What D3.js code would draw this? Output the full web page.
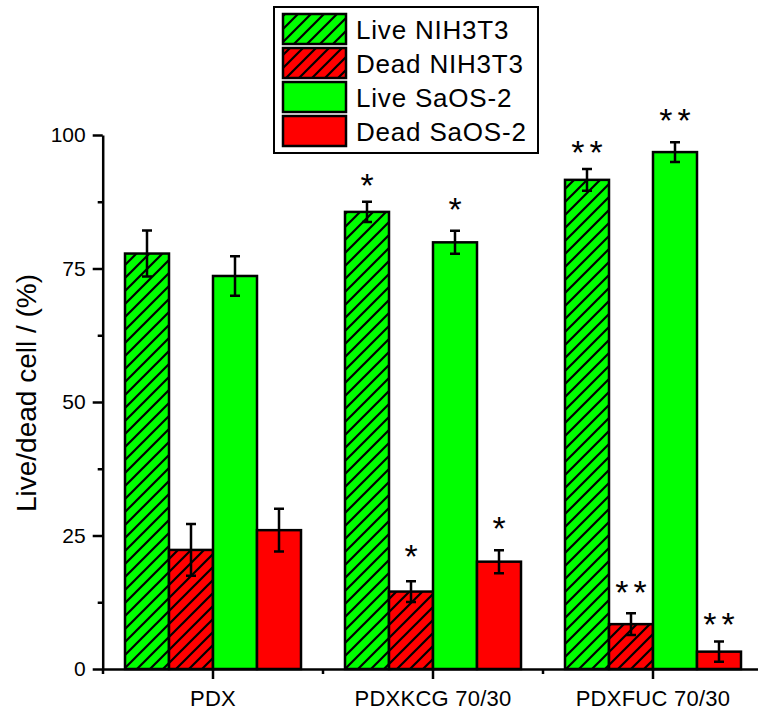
<!DOCTYPE html>
<html>
<head>
<meta charset="utf-8">
<script src="https://cdn.jsdelivr.net/npm/d3@7/dist/d3.min.js"></script>
<style>
  html, body { margin: 0; padding: 0; background: #fff; }
  svg { display: block; font-family: Arial, "Liberation Sans", sans-serif; }
</style>
</head>
<body>
<svg id="chart" width="758" height="713"></svg>
<script>
// Groups and series
const categories = ["PDX", "PDXKCG 70/30", "PDXFUC 70/30"];
const seriesNames = ["Live NIH3T3", "Dead NIH3T3", "Live SaOS-2", "Dead SaOS-2"];

// Mean percentages per group (PDX, PDXKCG, PDXFUC)
const liveNIH3T3 = [77.8, 85.6, 91.6];
const deadNIH3T3 = [22.3, 14.5, 8.4];
const liveSaOS2  = [73.6, 79.9, 96.8];
const deadSaOS2  = [26.0, 20.1, 3.25];

// Standard deviations
const liveNIH3T3Err = [4.3, 1.9, 2.05];
const deadNIH3T3Err = [4.85, 1.95, 2.05];
const liveSaOS2Err  = [3.7, 2.15, 1.85];
const deadSaOS2Err  = [4.0, 2.15, 1.9];

// Significance marks: [group, series, text, level in %]
const sigMarks = [
  ["PDXKCG 70/30", "Live NIH3T3", "*", 91.9],
  ["PDXKCG 70/30", "Dead NIH3T3", "*", 22.4],
  ["PDXKCG 70/30", "Live SaOS-2", "*", 87.5],
  ["PDXKCG 70/30", "Dead SaOS-2", "*", 27.7],
  ["PDXFUC 70/30", "Live NIH3T3", "**", 98.1],
  ["PDXFUC 70/30", "Dead NIH3T3", "**", 15.7],
  ["PDXFUC 70/30", "Live SaOS-2", "**", 104.1],
  ["PDXFUC 70/30", "Dead SaOS-2", "**", 9.7]
];

const yTicks = [0, 25, 50, 75, 100];
const yMinorTicks = [12.5, 37.5, 62.5, 87.5];
const yTitle = "Live/dead cell / (%)";

const seriesValues = [liveNIH3T3, deadNIH3T3, liveSaOS2, deadSaOS2];
const seriesErrors = [liveNIH3T3Err, deadNIH3T3Err, liveSaOS2Err, deadSaOS2Err];
const seriesFill = ["url(#hatchGreen)", "url(#hatchRed)", "#00ff00", "#ff0000"];

const svg = d3.select("#chart");

// Hatch patterns for the NIH3T3 series
const defs = svg.append("defs");
[["hatchGreen", "#00ff00"], ["hatchRed", "#ff0000"]].forEach(([id, col]) => {
  const p = defs.append("pattern")
    .attr("id", id)
    .attr("patternUnits", "userSpaceOnUse")
    .attr("width", 13).attr("height", 13);
  p.append("rect").attr("width", 13).attr("height", 13).attr("fill", col);
  p.append("path")
    .attr("d", "M0,13 L13,0 M-3,3 L3,-3 M10,16 L16,10")
    .attr("stroke", "#000").attr("stroke-width", 2.2).attr("fill", "none");
});

// Scales
const x0 = d3.scaleBand().domain(categories).range([103, 763]).paddingInner(0).paddingOuter(0);
const x1 = d3.scaleBand().domain(seriesNames).range([22, x0.bandwidth() - 22]).padding(0);
const y = d3.scaleLinear().domain([0, 100]).range([669, 135]);

// Flatten into bar records
const bars = [];
categories.forEach((c, ci) => {
  seriesNames.forEach((s, si) => {
    bars.push({ cat: c, series: s, value: seriesValues[si][ci], err: seriesErrors[si][ci], fill: seriesFill[si] });
  });
});

// Bars
svg.append("g").selectAll("rect")
  .data(bars)
  .join("rect")
  .attr("x", d => x0(d.cat) + x1(d.series))
  .attr("y", d => y(d.value))
  .attr("width", x1.bandwidth())
  .attr("height", d => y(0) - y(d.value))
  .attr("fill", d => d.fill)
  .attr("stroke", "#000")
  .attr("stroke-width", 2.5);

// Error bars
const eb = svg.append("g").attr("stroke", "#000").attr("stroke-width", 2.5).attr("fill", "none");
const capW = 10;
bars.forEach(d => {
  const cx = x0(d.cat) + x1(d.series) + x1.bandwidth() / 2;
  const yt = y(d.value + d.err), yb = y(d.value - d.err);
  eb.append("path")
    .attr("d", `M${cx},${yt}V${yb}M${cx - capW / 2},${yt}H${cx + capW / 2}M${cx - capW / 2},${yb}H${cx + capW / 2}`);
});

// Significance asterisks
const starSize = 34;
svg.append("g").selectAll("text")
  .data(sigMarks)
  .join("text")
  .attr("x", d => x0(d[0]) + x1(d[1]) + x1.bandwidth() / 2)
  .attr("dx", d => d[2].length > 1 ? 2.5 : 0)
  .attr("y", d => y(d[3]) + starSize * 0.56)
  .attr("text-anchor", "middle")
  .attr("font-size", starSize)
  .attr("letter-spacing", d => d[2].length > 1 ? "5px" : "0px")
  .attr("fill", "#000")
  .text(d => d[2]);

// Y axis
const yAxis = svg.append("g").attr("transform", "translate(102.7,0)")
  .call(d3.axisLeft(y).tickValues(yTicks).tickSize(10).tickSizeOuter(0).tickPadding(7));
yAxis.select(".domain").attr("stroke-width", 2.5);
yAxis.selectAll(".tick line").attr("stroke-width", 2.5);
yAxis.selectAll("text").attr("font-size", 21).attr("font-family", "Arial, 'Liberation Sans', sans-serif").attr("fill", "#000");

const yMinor = svg.append("g").attr("transform", "translate(102.7,0)")
  .call(d3.axisLeft(y).tickValues(yMinorTicks).tickSize(5).tickSizeOuter(0).tickFormat(""));
yMinor.select(".domain").remove();
yMinor.selectAll(".tick line").attr("stroke-width", 2.5);

// X axis
const xAxis = svg.append("g").attr("transform", "translate(0,669)")
  .call(d3.axisBottom(x0).tickSize(10).tickSizeOuter(0).tickPadding(11));
xAxis.select(".domain").attr("stroke-width", 2.5);
xAxis.selectAll(".tick line").attr("stroke-width", 2.5);
xAxis.selectAll("text").attr("font-size", 22).attr("letter-spacing", "0.25px")
  .attr("font-family", "Arial, 'Liberation Sans', sans-serif").attr("fill", "#000");

// Minor x ticks at group boundaries
const xBounds = categories.map(c => x0(c));
svg.append("g").attr("stroke", "#000").attr("stroke-width", 2.5)
  .selectAll("line").data(xBounds).join("line")
  .attr("x1", d => d).attr("x2", d => d)
  .attr("y1", 669).attr("y2", 674);

// Y axis title
svg.append("text")
  .attr("transform", `translate(36,${(y(0) + y(100)) / 2 - 9}) rotate(-90)`)
  .attr("text-anchor", "middle")
  .attr("font-size", 28)
  .attr("fill", "#000")
  .text(yTitle);

// Legend
const lg = svg.append("g");
lg.append("rect")
  .attr("x", 274).attr("y", 7).attr("width", 264).attr("height", 146)
  .attr("fill", "#fff").attr("stroke", "#000").attr("stroke-width", 2);
const rowStep = 34;
seriesNames.forEach((s, i) => {
  const top = 14 + i * rowStep;
  lg.append("rect")
    .attr("x", 283).attr("y", top).attr("width", 63).attr("height", 30)
    .attr("fill", seriesFill[i]).attr("stroke", "#000").attr("stroke-width", 2.5);
  lg.append("text")
    .attr("x", 356).attr("y", top + 25)
    .attr("font-size", 26).attr("letter-spacing", "0.8px")
    .attr("fill", "#000")
    .text(s);
});
</script>
</body>
</html>
